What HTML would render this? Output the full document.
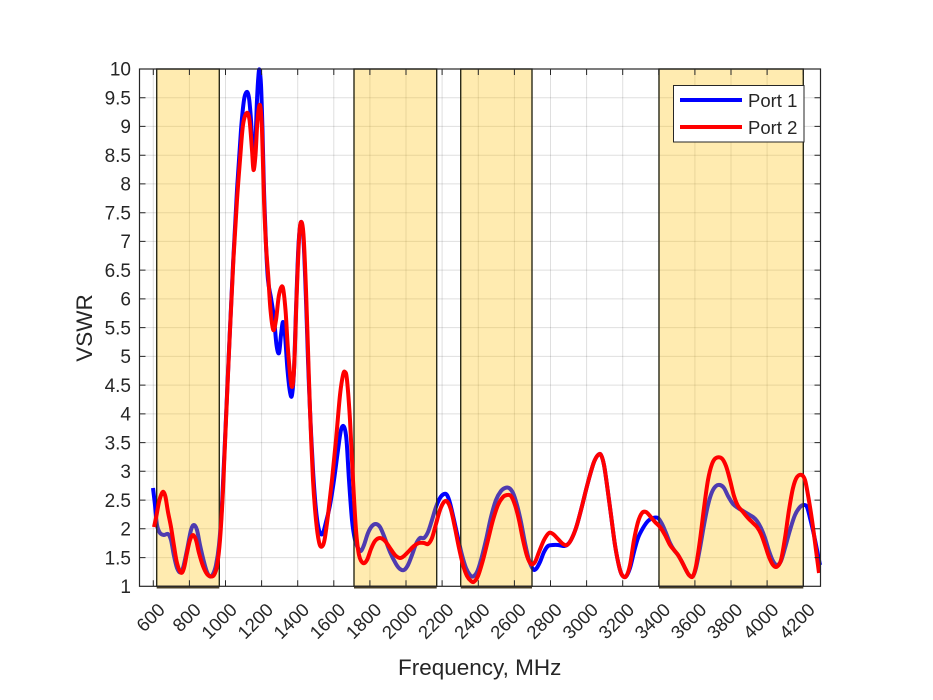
<!DOCTYPE html>
<html>
<head>
<meta charset="utf-8">
<style>
  html,body{margin:0;padding:0;background:#fff;}
  svg{display:block;}
  text{font-family:"Liberation Sans",Arial,sans-serif;fill:#262626;}
</style>
</head>
<body>
<svg width="933" height="700" viewBox="0 0 933 700" xmlns="http://www.w3.org/2000/svg">
  <rect x="0" y="0" width="933" height="700" fill="#fff"/>
  <rect x="139.5" y="69" width="681" height="517.3" fill="#fff"/>

  <!-- grid -->
  <g stroke="#262626" stroke-opacity="0.15" stroke-width="1">
    <line x1="153.3" y1="69" x2="153.3" y2="586.3"/>
    <line x1="189.4" y1="69" x2="189.4" y2="586.3"/>
    <line x1="225.5" y1="69" x2="225.5" y2="586.3"/>
    <line x1="261.6" y1="69" x2="261.6" y2="586.3"/>
    <line x1="297.7" y1="69" x2="297.7" y2="586.3"/>
    <line x1="333.8" y1="69" x2="333.8" y2="586.3"/>
    <line x1="369.9" y1="69" x2="369.9" y2="586.3"/>
    <line x1="406.0" y1="69" x2="406.0" y2="586.3"/>
    <line x1="442.1" y1="69" x2="442.1" y2="586.3"/>
    <line x1="478.3" y1="69" x2="478.3" y2="586.3"/>
    <line x1="514.4" y1="69" x2="514.4" y2="586.3"/>
    <line x1="550.5" y1="69" x2="550.5" y2="586.3"/>
    <line x1="586.6" y1="69" x2="586.6" y2="586.3"/>
    <line x1="622.7" y1="69" x2="622.7" y2="586.3"/>
    <line x1="658.8" y1="69" x2="658.8" y2="586.3"/>
    <line x1="694.9" y1="69" x2="694.9" y2="586.3"/>
    <line x1="731.0" y1="69" x2="731.0" y2="586.3"/>
    <line x1="767.1" y1="69" x2="767.1" y2="586.3"/>
    <line x1="803.3" y1="69" x2="803.3" y2="586.3"/>

    <line x1="139.5" y1="557.6" x2="820.5" y2="557.6"/>
    <line x1="139.5" y1="528.8" x2="820.5" y2="528.8"/>
    <line x1="139.5" y1="500.1" x2="820.5" y2="500.1"/>
    <line x1="139.5" y1="471.3" x2="820.5" y2="471.3"/>
    <line x1="139.5" y1="442.6" x2="820.5" y2="442.6"/>
    <line x1="139.5" y1="413.9" x2="820.5" y2="413.9"/>
    <line x1="139.5" y1="385.1" x2="820.5" y2="385.1"/>
    <line x1="139.5" y1="356.4" x2="820.5" y2="356.4"/>
    <line x1="139.5" y1="327.6" x2="820.5" y2="327.6"/>
    <line x1="139.5" y1="298.9" x2="820.5" y2="298.9"/>
    <line x1="139.5" y1="270.1" x2="820.5" y2="270.1"/>
    <line x1="139.5" y1="241.4" x2="820.5" y2="241.4"/>
    <line x1="139.5" y1="212.7" x2="820.5" y2="212.7"/>
    <line x1="139.5" y1="183.9" x2="820.5" y2="183.9"/>
    <line x1="139.5" y1="155.2" x2="820.5" y2="155.2"/>
    <line x1="139.5" y1="126.4" x2="820.5" y2="126.4"/>
    <line x1="139.5" y1="97.7" x2="820.5" y2="97.7"/>
  </g>

  <!-- Port 1 (blue) -->
  <polyline class="crv" fill="none" stroke="#0000ff" stroke-width="4" stroke-linejoin="round" stroke-linecap="butt" points="
153,488 155,505 157,525 160,533 164,535 168,534 171,540 174,556 177,568 180,572.5 183,568 187,550 191,530 194,525 197,530 200,545 204,562 207,572 210,576.5 213,574 216,565 219,545 222,505 225,440 229,350 233,265 237,190 241,130 244,100 246.7,92 249,98 251,120 253.5,160 255.5,140 257,100 258.5,75 259.5,70 261,85 262.5,130 264,190 266,245 268,280 271,298 274,318 276.5,345 279,353 281,335 283,322 285,335 287.5,370 290,392 292,395 294,370 296,310 298.5,245 301,222 303.5,240 306,300 308,360 310,410 313,470 316,510 319,530 322.5,534 326,522 330,505 334,480 338,450 341,430 344,426.7 346.5,440 349,480 352,520 355,540 358,548 361,551 364,545 368,533 372,526 376,524 380,527 384,536 390,552 396,564 400,569 404,570 408,565 412,555 416,544 420,538 424,538 428,532 432,520 436,507 440,498 444,494 447,495 450,503 454,520 458,538 462,555 466,568 470,575 473,576.5 477,572 481,560 486,540 491,517 496,500 501,491 505,488 509,488 513,493 517,505 521,522 525,543 529,560 533,569 536,569 540,562 544,552 548,546 553,545 558,545 563,546 567,545 571,540 576,528 581,510 586,490 590,475 594,462 598,455 601,455 604,465 607,485 611,515 615,545 619,566 622,575 626,576.5 630,568 634,552 638,538 643,528 648,521 653,518 658,518 662,524 666,533 670,543 674,550 678,555 682,562 686,570 689,575 692.7,576.5 696,568 700,548 704,525 708,505 712,492 716,486 720,485 724,488 728,496 733,504 738,508 743,511 748,514 753,517 757,521 761,528 765,538 769,551 773,561 777,565 781,561 785,548 790,530 795,515 800,507 804,505 807,507 810,518 814,535 818,555 820,565"/>

  <!-- shaded bands -->
  <g fill="rgb(255,192,0)" fill-opacity="0.31" stroke="#2a2a1a" stroke-width="1.4">
    <rect x="156.7" y="69" width="62.6" height="517.3"/>
    <rect x="354" y="69" width="82.7" height="517.3"/>
    <rect x="460.7" y="69" width="71.3" height="517.3"/>
    <rect x="659" y="69" width="144.3" height="517.3"/>
  </g>
  <g stroke="#4a4028" stroke-width="3">
    <line x1="156.7" y1="587" x2="219.3" y2="587"/>
    <line x1="354" y1="587" x2="436.7" y2="587"/>
    <line x1="460.7" y1="587" x2="532" y2="587"/>
    <line x1="659" y1="587" x2="803.3" y2="587"/>
  </g>

  <!-- Port 2 (red) -->
  <polyline class="crv" fill="none" stroke="#ff0000" stroke-width="4" stroke-linejoin="round" stroke-linecap="butt" points="
154,527 156,518 159,502 161.5,494 163.5,492 165.5,497 168,512 171,527 174,546 177,563 181,572.7 184,568 187,553 190,540 193,535 196,540 199,553 203,566 207,574 211,576.5 214,575 217,566 220,540 223,490 226,420 230,330 233.5,258 237,200 240,160 243,125 246.7,113 249.5,120 252,150 253.5,170 255.5,155 257.5,120 260,105 262,130 264,200 266,245 268.3,277 270.5,310 273.3,330 276,320 279,295 282.7,287 285.5,310 288,350 291.5,386 294,370 296.5,300 299,240 301,222 303.5,235 306,290 308,350 310,410 313,480 316,520 319,542 321.7,546.7 324.5,540 328,515 332,480 336,440 340,395 343,375 345,372 347,380 350,420 353,480 356,530 359,555 363,563 367,560 371,549 375,541 380,538 385,541 390,548 395,555 400,558 404,556 409,551 414,546 419,543 424,543 428,544 432,538 436,524 440,510 444,502 447.3,501.7 451,510 455,528 459,548 463,565 467,576 471,581 474,581.7 478,576 483,560 488,540 493,520 498,505 503,497 507,495 511,496 515,505 519,520 523,540 527,556 531,564 535,562 539,552 544,540 549,533 553,534 558,539 563,544 567,545 571,540 576,528 581,510 586,490 590,475 594,462 598,455 601,455 604,465 607,485 611,515 615,545 619,566 622,575 626,576.5 630,565 634,540 638,522 642,513 646,512 650,516 655,522 660,527 665,535 670,545 674,550 678,555 682,562 686,570 689,575 692.7,576.5 696,566 700,540 704,508 708,480 712,464 716,458 721.7,458.3 726,466 730,480 734,496 738,506 743,512 748,518 753,523 757,527 761,534 765,545 769,557 773,565 777,566.7 781,560 785,538 789,510 793,488 797,477 801.7,475 805,480 808,495 812,520 816,550 819,573"/>

  <!-- axes box -->
  <rect x="139.5" y="69" width="681" height="517.3" fill="none" stroke="#262626" stroke-width="1.2"/>

  <!-- ticks -->
  <g stroke="#262626" stroke-width="1">
    <path d="M153.3 586.3v-6M189.4 586.3v-6M225.5 586.3v-6M261.6 586.3v-6M297.7 586.3v-6M333.8 586.3v-6M369.9 586.3v-6M406 586.3v-6M442.1 586.3v-6M478.3 586.3v-6M514.4 586.3v-6M550.5 586.3v-6M586.6 586.3v-6M622.7 586.3v-6M658.8 586.3v-6M694.9 586.3v-6M731 586.3v-6M767.1 586.3v-6M803.3 586.3v-6"/>
    <path d="M153.3 69v6M189.4 69v6M225.5 69v6M261.6 69v6M297.7 69v6M333.8 69v6M369.9 69v6M406 69v6M442.1 69v6M478.3 69v6M514.4 69v6M550.5 69v6M586.6 69v6M622.7 69v6M658.8 69v6M694.9 69v6M731 69v6M767.1 69v6M803.3 69v6"/>
    <path d="M139.5 557.6h6M139.5 528.8h6M139.5 500.1h6M139.5 471.3h6M139.5 442.6h6M139.5 413.9h6M139.5 385.1h6M139.5 356.4h6M139.5 327.6h6M139.5 298.9h6M139.5 270.1h6M139.5 241.4h6M139.5 212.7h6M139.5 183.9h6M139.5 155.2h6M139.5 126.4h6M139.5 97.7h6"/>
    <path d="M820.5 557.6h-6M820.5 528.8h-6M820.5 500.1h-6M820.5 471.3h-6M820.5 442.6h-6M820.5 413.9h-6M820.5 385.1h-6M820.5 356.4h-6M820.5 327.6h-6M820.5 298.9h-6M820.5 270.1h-6M820.5 241.4h-6M820.5 212.7h-6M820.5 183.9h-6M820.5 155.2h-6M820.5 126.4h-6M820.5 97.7h-6"/>
  </g>

  <!-- y tick labels -->
  <g font-size="19" text-anchor="end">
    <text x="131" y="593">1</text>
    <text x="131" y="564.3">1.5</text>
    <text x="131" y="535.5">2</text>
    <text x="131" y="506.8">2.5</text>
    <text x="131" y="478">3</text>
    <text x="131" y="449.3">3.5</text>
    <text x="131" y="420.6">4</text>
    <text x="131" y="391.8">4.5</text>
    <text x="131" y="363.1">5</text>
    <text x="131" y="334.3">5.5</text>
    <text x="131" y="305.6">6</text>
    <text x="131" y="276.8">6.5</text>
    <text x="131" y="248.1">7</text>
    <text x="131" y="219.4">7.5</text>
    <text x="131" y="190.6">8</text>
    <text x="131" y="161.9">8.5</text>
    <text x="131" y="133.1">9</text>
    <text x="131" y="104.4">9.5</text>
    <text x="131" y="75.7">10</text>
  </g>

  <!-- x tick labels -->
  <g font-size="18.5" text-anchor="end">
    <text transform="translate(166,611) rotate(-45)">600</text>
    <text transform="translate(202.1,611) rotate(-45)">800</text>
    <text transform="translate(238.2,611) rotate(-45)">1000</text>
    <text transform="translate(274.3,611) rotate(-45)">1200</text>
    <text transform="translate(310.4,611) rotate(-45)">1400</text>
    <text transform="translate(346.5,611) rotate(-45)">1600</text>
    <text transform="translate(382.6,611) rotate(-45)">1800</text>
    <text transform="translate(418.7,611) rotate(-45)">2000</text>
    <text transform="translate(454.8,611) rotate(-45)">2200</text>
    <text transform="translate(491,611) rotate(-45)">2400</text>
    <text transform="translate(527.1,611) rotate(-45)">2600</text>
    <text transform="translate(563.2,611) rotate(-45)">2800</text>
    <text transform="translate(599.3,611) rotate(-45)">3000</text>
    <text transform="translate(635.4,611) rotate(-45)">3200</text>
    <text transform="translate(671.5,611) rotate(-45)">3400</text>
    <text transform="translate(707.6,611) rotate(-45)">3600</text>
    <text transform="translate(743.7,611) rotate(-45)">3800</text>
    <text transform="translate(779.8,611) rotate(-45)">4000</text>
    <text transform="translate(816,611) rotate(-45)">4200</text>
  </g>

  <!-- axis labels -->
  <text x="479.7" y="675" font-size="22.5" text-anchor="middle">Frequency, MHz</text>
  <text transform="translate(92,328) rotate(-90)" font-size="22.5" text-anchor="middle">VSWR</text>

  <!-- legend -->
  <rect x="673.5" y="85.5" width="130.5" height="56.5" fill="#fff" stroke="#262626" stroke-width="1"/>
  <line x1="680" y1="100" x2="742" y2="100" stroke="#0000ff" stroke-width="4"/>
  <line x1="680" y1="127" x2="742" y2="127" stroke="#ff0000" stroke-width="4"/>
  <text x="748" y="107" font-size="18.5" fill="#000">Port 1</text>
  <text x="748" y="134" font-size="18.5" fill="#000">Port 2</text>
</svg>
<script>
(function(){
  var NS="http://www.w3.org/2000/svg";
  var pls=document.querySelectorAll("polyline.crv");
  for(var k=0;k<pls.length;k++){
    var pl=pls[k];
    var raw=pl.getAttribute("points").trim().split(/\s+/);
    var p=[];
    for(var i=0;i<raw.length;i++){var a=raw[i].split(",");if(a.length==2)p.push([+a[0],+a[1]]);}
    if(p.length<3)continue;
    var d="M"+p[0][0]+" "+p[0][1];
    for(var i=0;i<p.length-1;i++){
      var p0=p[i>0?i-1:i],p1=p[i],p2=p[i+1],p3=p[i+2<p.length?i+2:i+1];
      var c1x=p1[0]+(p2[0]-p0[0])/6,c1y=p1[1]+(p2[1]-p0[1])/6;
      var c2x=p2[0]-(p3[0]-p1[0])/6,c2y=p2[1]-(p3[1]-p1[1])/6;
      d+="C"+c1x.toFixed(2)+" "+c1y.toFixed(2)+" "+c2x.toFixed(2)+" "+c2y.toFixed(2)+" "+p2[0]+" "+p2[1];
    }
    var path=document.createElementNS(NS,"path");
    path.setAttribute("d",d);
    ["fill","stroke","stroke-width","stroke-linejoin","stroke-linecap"].forEach(function(n){path.setAttribute(n,pl.getAttribute(n));});
    pl.parentNode.replaceChild(path,pl);
  }
})();
</script>
</body>
</html>
